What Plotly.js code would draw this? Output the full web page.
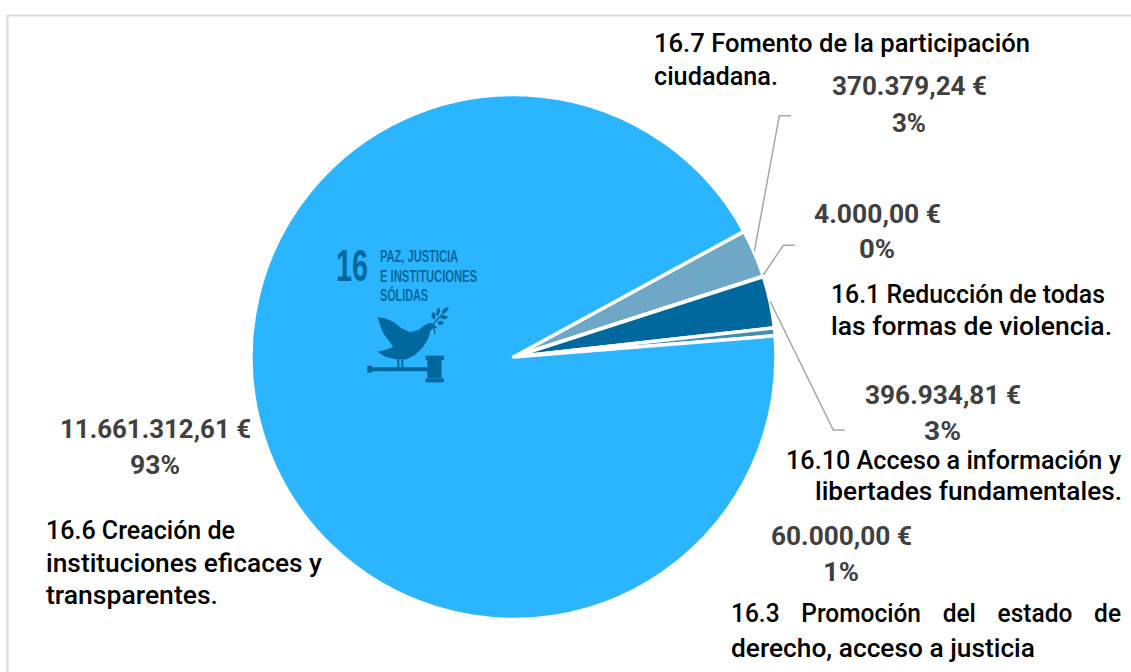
<!DOCTYPE html>
<html><head><meta charset="utf-8">
<script src="https://cdn.plot.ly/plotly-3.0.1.min.js"></script>
<style>html,body{margin:0;padding:0;background:#fff}#c{width:1131px;height:672px}</style>
</head><body><div id="c"></div>
<script>
const W = 1131, H = 672;
const targets = ['16.7 Fomento de la participación ciudadana.','16.1 Reducción de todas las formas de violencia.','16.10 Acceso a información y libertades fundamentales.','16.3 Promoción del estado de derecho, acceso a justicia','16.6 Creación de instituciones eficaces y transparentes.'];
const amounts = [370379.24, 4000.00, 396934.81, 60000.00, 11661312.61];
const amountLabels = ['370.379,24 €','4.000,00 €','396.934,81 €','60.000,00 €','11.661.312,61 €'];
const percentLabels = ['3%','0%','3%','1%','93%'];
const sliceColors = ['#6fa8c7','#4a90b8','#00689d','#3f8fb5','#2cb5ff'];

const BODY = 'Roboto, sans-serif';
const DARK = '#00689d';
const px = (x)=>x/W, py=(y)=>1-y/H;
const anns = [], fits = [];
function t(text,left,right,y,opts){
  opts=opts||{};
  anns.push({text:text,x:px(left),y:py(y),xref:'paper',yref:'paper',xanchor:'left',yanchor:'middle',showarrow:false,borderpad:0,borderwidth:0,
    font:{family:opts.family||BODY,size:opts.size||25,color:opts.color||'#000',weight:opts.weight||500}});
  fits.push({left:left,right:right,wordGap:opts.wordGap||0});
}
const B={color:'#404040'};
const b=s=>'<b>'+s+'</b>';
t('16.7 Fomento de la participación',654,1030,44);
t('ciudadana.',654,778,76);
t(b(amountLabels[0]),832,987,87,B); t(b(percentLabels[0]),892,926,123,B);
t(b(amountLabels[1]),814,941,214,B); t(b(percentLabels[1]),859,895,249,B);
t('16.1 Reducción de todas',831,1105,294);
t('las formas de violencia.',831,1112,326);
t(b(amountLabels[2]),865,1021,395,B); t(b(percentLabels[2]),924,961,431,B);
t('16.10 Acceso a información y',786,1121,460);
t('libertades fundamentales.',815,1122,491);
t(b(amountLabels[3]),771,912,536,B); t(b(percentLabels[3]),823,859,572,B);
t('16.3 Promoción del estado de',731,1121,613,{wordGap:16});
t('derecho, acceso a justicia',731,1035,648);
t(b(amountLabels[4]),60,251,430,B); t(b(percentLabels[4]),130,180,465,B);
t('16.6 Creación de',46,235,530);
t('instituciones eficaces y',46,322,563);
t('transparentes.',46,218,595);

// logo text, squeezed to the condensed widths
const L=(size)=>({family:'"Liberation Sans", sans-serif',size:size,color:DARK});
t(b('16'),336,368,266,L(44));
t(b('PAZ, JUSTICIA'),380,458,256,L(16));
t(b('E INSTITUCIONES'),380,477,276,L(16));
t(b('SÓLIDAS'),380,428,295,L(16));

function poly(pts,color,width){
  return {type:'path',xref:'paper',yref:'paper',layer:'above',
    path:'M'+pts.map(p=>px(p[0])+','+py(p[1])).join(' L')+'',
    line:{color:color,width:width},fillcolor:'rgba(0,0,0,0)'};
}
function fillPoly(pts,color){
  return {type:'path',xref:'paper',yref:'paper',layer:'above',
    path:'M'+pts.map(p=>px(p[0])+','+py(p[1])).join(' L')+' Z',
    line:{width:0},fillcolor:color};
}
const z=(a)=>a.map(p=>[360+p[0]/3,300+p[1]/3]);
const dove=z([[53,52],[75,55],[100,65],[125,85],[150,97],[175,90],[195,75],[210,68],[222,73],[232,84],[222,84],[212,90],[205,115],[190,140],[165,165],[140,178],[105,178],[75,170],[52,155],[75,150],[100,140],[85,120],[70,100],[60,75]]);
const branch=z([[225,103],[220,72],[240,50],[265,25]]);
const leaf1=z([[214,52],[216,40],[222,36],[228,44],[224,60]]);
const leaf2=z([[228,40],[232,26],[240,24],[240,36],[232,50]]);
const leaf3=z([[245,36],[254,24],[266,22],[260,34],[250,40]]);
const leaf4=z([[240,50],[252,46],[266,50],[256,58],[244,56]]);
const leaf5=z([[232,66],[242,62],[252,66],[246,74],[236,74]]);
const rect=(x0,y0,x1,y1)=>z([[x0,y0],[x1,y0],[x1,y1],[x0,y1]]);
const shapes=[
  {type:'line',xref:'paper',yref:'paper',x0:px(7.5),x1:px(7.5),y0:py(15),y1:0,line:{color:'#d9d9d9',width:2},layer:'below'},
  {type:'line',xref:'paper',yref:'paper',x0:px(7),x1:1,y0:py(15.5),y1:py(15.5),line:{color:'#d9d9d9',width:2},layer:'below'},
  poly([[754.3,251.7],[779.3,115.7],[791,115.7]],'#a6a6a6',1.5),
  poly([[763.3,275],[783.3,245.3],[795,245.3]],'#a6a6a6',1.5),
  poly([[770,301],[833.3,430],[844.7,430]],'#a6a6a6',1.5),
  fillPoly(dove,DARK),poly(branch,DARK,1.3),fillPoly(leaf1,DARK),fillPoly(leaf2,DARK),fillPoly(leaf3,DARK),fillPoly(leaf4,DARK),fillPoly(leaf5,DARK),
  fillPoly(rect(112,176,118,206),DARK),fillPoly(rect(124,176,130,206),DARK),
  fillPoly(rect(22,197,36,218),DARK),fillPoly(rect(30,202,205,214),DARK),
  fillPoly(rect(202,180,245,234),DARK),fillPoly(rect(197,167,252,180),DARK),fillPoly(rect(197,235,252,247),DARK)
];
const cx=513.5,cy=357,r=262.5;
Plotly.newPlot('c',[{type:'pie',labels:targets,values:amounts,sort:false,direction:'clockwise',rotation:61.4,
  textinfo:'none',hoverinfo:'label+value+percent',showlegend:false,
  marker:{colors:sliceColors,line:{color:'#fff',width:3.5}},
  domain:{x:[(cx-r)/W,(cx+r)/W],y:[1-(cy+r)/H,1-(cy-r)/H]}}],
  {width:W,height:H,margin:{l:0,r:0,t:0,b:0},paper_bgcolor:'#fff',showlegend:false,annotations:anns,shapes:shapes},
  {displayModeBar:false}).then(()=>{
    document.querySelectorAll('.annotation-text').forEach((el,i)=>{
      const f=fits[i];
      if(f.wordGap) el.style.wordSpacing=f.wordGap+'px';
      el.setAttribute('textLength',f.right-f.left);
      el.setAttribute('lengthAdjust','spacingAndGlyphs');
      const r0=el.getBoundingClientRect();
      el.setAttribute('x',(parseFloat(el.getAttribute('x'))||0)+f.left-r0.left);
    });
  });
</script></body></html>
